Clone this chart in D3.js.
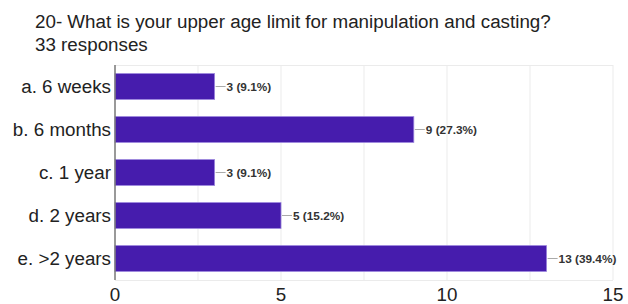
<!DOCTYPE html>
<html lang="en">
<head>
<meta charset="UTF-8">
<title>Upper age limit</title>
<script src="https://cdn.jsdelivr.net/npm/d3@7"></script>
<style>
  body { margin: 0; background: #fff; overflow: hidden; }
  text { font-family: "Liberation Sans", Arial, Helvetica, sans-serif; }
</style>
</head>
<body>
<svg id="chart" width="628" height="304"></svg>
<script>
const categories = ["a. 6 weeks", "b. 6 months", "c. 1 year", "d. 2 years", "e. >2 years"];
const counts = [3, 9, 3, 5, 13];
const percents = ["9.1%", "27.3%", "9.1%", "15.2%", "39.4%"];
const xTicks = [0, 5, 10, 15];
const gridTicks = [0, 2.5, 5, 7.5, 10, 12.5, 15];
const title = "20- What is your upper age limit for manipulation and casting?";
const subtitle = "33 responses";

const svg = d3.select("#chart");
const plotL = 115, plotR = 613, plotT = 65, plotB = 280;

const x = d3.scaleLinear().domain([0, 15]).range([plotL, plotR]);
const y = d3.scaleBand().domain(categories).range([plotT, plotB]).paddingInner(0.4).paddingOuter(0.2);

svg.append("text").attr("x", 35).attr("y", 28).attr("font-size", 18.8).attr("fill", "#222").text(title);
svg.append("text").attr("x", 35).attr("y", 51).attr("font-size", 18.8).attr("fill", "#222").text(subtitle);

// grid
svg.append("g").selectAll("line").data(gridTicks.slice(1)).join("line")
  .attr("x1", d => x(d)).attr("x2", d => x(d))
  .attr("y1", plotT).attr("y2", plotB)
  .attr("stroke", "#ebebeb").attr("stroke-width", 1);
svg.append("line").attr("x1", plotL).attr("x2", plotR).attr("y1", plotT + 0.5).attr("y2", plotT + 0.5)
  .attr("stroke", "#ebebeb");
svg.append("line").attr("x1", plotL).attr("x2", plotR).attr("y1", plotB + 0.5).attr("y2", plotB + 0.5)
  .attr("stroke", "#ebebeb");

// bars
const rows = categories.map((c, i) => ({ c, v: counts[i], p: percents[i] }));
svg.append("g").selectAll("rect").data(rows).join("rect")
  .attr("x", plotL).attr("y", d => y(d.c))
  .attr("width", d => x(d.v) - plotL).attr("height", y.bandwidth())
  .attr("fill", "#461cad").attr("stroke", "#9a84dc").attr("stroke-width", 0.8);

// value labels
const lab = svg.append("g").selectAll("g").data(rows).join("g")
  .attr("transform", d => `translate(${x(d.v)},${y(d.c) + y.bandwidth() / 2})`);
lab.append("line").attr("x1", 1).attr("x2", 11).attr("stroke", "#aaa").attr("stroke-width", 1);
lab.append("text").attr("x", 12).attr("dy", "0.35em").attr("font-size", 11.8)
  .attr("font-weight", "bold").attr("fill", "#333")
  .text(d => `${d.v} (${d.p})`);

// category axis
svg.append("g").selectAll("text").data(categories).join("text")
  .attr("x", plotL - 4).attr("y", d => y(d) + y.bandwidth() / 2).attr("dy", "0.35em")
  .attr("text-anchor", "end").attr("font-size", 18.8).attr("fill", "#222").text(d => d);
svg.append("line").attr("x1", plotL).attr("x2", plotL).attr("y1", plotT).attr("y2", plotB)
  .attr("stroke", "#777").attr("stroke-width", 1.5);

// x tick labels
svg.append("g").selectAll("text").data(xTicks).join("text")
  .attr("x", d => x(d)).attr("y", 301).attr("text-anchor", "middle")
  .attr("font-size", 18.8).attr("fill", "#222").text(d => d);
</script>
</body>
</html>
